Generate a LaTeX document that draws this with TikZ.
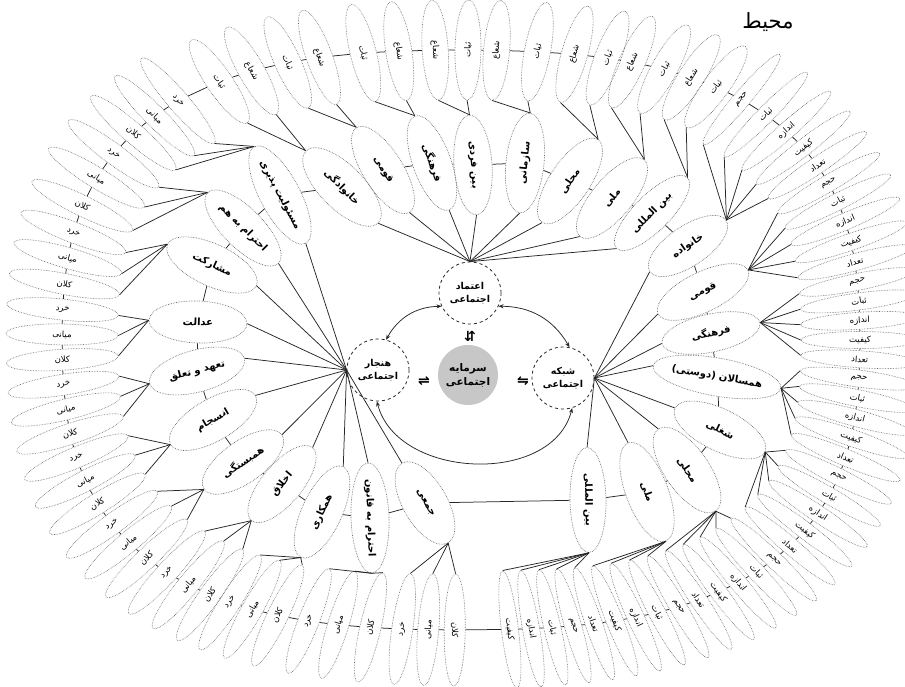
\documentclass[tikz,border=0pt]{standalone}
\usepackage{fontspec}
\newfontfamily\arfont[Script=Arabic]{DejaVu Sans}
\newfontfamily\symfont{DejaVu Sans}
\TeXXeTstate=1
\usetikzlibrary{shapes.geometric,arrows.meta}
\tikzset{
  leafbox/.style={ellipse, draw=black!60, densely dotted, line width=0.6pt, inner sep=0pt, font=\arfont\fontsize{8.5}{10}\selectfont},
  midbox/.style={ellipse, draw=black!60, densely dotted, line width=0.65pt, inner sep=0pt, font=\arfont\bfseries\fontsize{10}{12}\selectfont},
  hubbox/.style={circle, draw=black!85, dashed, line width=0.8pt, minimum size=62pt, inner sep=0pt, align=center, font=\arfont\bfseries\fontsize{9.5}{13}\selectfont},
  corebox/.style={circle, fill=black!22, minimum size=60pt, inner sep=0pt, align=center, font=\arfont\bfseries\fontsize{10.5}{14}\selectfont},
  wire/.style={line width=0.75pt, draw=black!85},
  twoway/.style={wire, {Stealth[length=5pt,width=4pt]}-{Stealth[length=5pt,width=4pt]}},
  symb/.style={font=\symfont\bfseries\fontsize{14}{14}\selectfont, inner sep=1pt},
}
% leaf: index, t, length, width, text
\newcommand\placeleaf[5]{%
  \pgfmathsetmacro\LFb{1+0.09*(sin(2*(#2)))^2}%
  \pgfmathsetmacro\LFx{461+399*cos(#2)*\LFb}%
  \pgfmathsetmacro\LFy{-340+290*sin(#2)*\LFb}%
  \pgfmathtruncatemacro\LFflip{cos(#2)+0.02<0 ? 1 : 0}%
  \ifnum\LFflip=1
    \pgfmathsetmacro\LFrot{#2+180}%
    \node[leafbox, minimum width=#3, minimum height=#4, rotate=\LFrot] (lf#1) at (\LFx,\LFy) {\beginR #5\endR};
    \coordinate (li#1) at (lf#1.east);
  \else
    \node[leafbox, minimum width=#3, minimum height=#4, rotate=#2] (lf#1) at (\LFx,\LFy) {\beginR #5\endR};
    \coordinate (li#1) at (lf#1.west);
  \fi}
% mid: index, x, y (pixels), outward angle, length, width, text
\newcommand\placemid[7]{%
  \pgfmathtruncatemacro\MDflip{cos(#4)<0 ? 1 : 0}%
  \ifnum\MDflip=1
    \pgfmathsetmacro\MDrot{#4+180}%
    \node[midbox, minimum width=#5, minimum height=#6, rotate=\MDrot] (md#1) at (#2,-#3) {#7};
    \coordinate (mi#1) at (md#1.east);
    \coordinate (mo#1) at (md#1.west);
  \else
    \node[midbox, minimum width=#5, minimum height=#6, rotate=#4] (md#1) at (#2,-#3) {#7};
    \coordinate (mi#1) at (md#1.west);
    \coordinate (mo#1) at (md#1.east);
  \fi}
\begin{document}
\begin{tikzpicture}[x=1pt,y=1pt]
\useasboundingbox (0,0) rectangle (905,-686);
\fill[white] (0,0) rectangle (905,-686);
\clip (0,0) rectangle (905,-686);

% centre
\node[hubbox] (etm) at (470,-293) {\beginR اعتماد\endR\\\beginR اجتماعی\endR};
\node[hubbox] (hnj) at (378,-370) {\beginR هنجار\endR\\\beginR اجتماعی\endR};
\node[hubbox] (shb) at (563,-378) {\beginR شبکه\endR\\\beginR اجتماعی\endR};
\node[corebox] (srm) at (468,-375) {\beginR سرمایه\endR\\\beginR اجتماعی\endR};
\node[symb] (ar1) at (470,-336) {⇵};
\node[symb] (ar2) at (424,-381) {⇌};
\node[symb] (ar3) at (523,-381) {⇋};
\node[font=\arfont\fontsize{21}{23}\selectfont] (env) at (768,-22) {\beginR محیط\endR};

\draw[twoway] (etm.205) to[bend right=30] (hnj.75);
\draw[twoway] (etm.-25) to[bend left=30] (shb.78);
\draw[twoway] (hnj.-92) .. controls +(20,-78) and +(-20,-78) .. (shb.-73);

% middle ring
\placemid{1}{342}{187}{135}{102pt}{44pt}{\beginR خانوادگی\endR}
\placemid{2}{383}{170}{122}{100pt}{40pt}{\beginR قومی\endR}
\placemid{3}{432}{163}{110}{100pt}{38pt}{\beginR فرهنگی\endR}
\placemid{4}{473}{165}{94}{100pt}{38pt}{\beginR بین فردی\endR}
\placemid{5}{525}{163}{84}{100pt}{38pt}{\beginR سازمانی\endR}
\placemid{6}{570}{181}{56}{100pt}{40pt}{\beginR محلی\endR}
\placemid{7}{612}{198}{50}{100pt}{40pt}{\beginR ملی\endR}
\placemid{8}{652}{213}{45}{100pt}{36pt}{\beginR بین المللی\endR}
\placemid{9}{688}{246}{34}{92pt}{40pt}{\beginR خانواده\endR}
\placemid{10}{703}{292}{26}{100pt}{40pt}{\beginR قومی\endR}
\placemid{11}{711}{333}{12}{100pt}{38pt}{\beginR فرهنگی\endR}
\placemid{12}{717}{377}{-10}{112pt}{38pt}{\beginR همسالان (دوستی)\endR}
\placemid{13}{720}{430}{-26}{100pt}{42pt}{\beginR شغلی\endR}
\placemid{14}{687}{470}{-55}{100pt}{44pt}{\beginR محلی\endR}
\placemid{15}{647}{492}{-69}{105pt}{42pt}{\beginR ملی\endR}
\placemid{16}{588}{500}{-89}{105pt}{36pt}{\beginR بین المللی\endR}
\placemid{17}{425}{503}{-60}{92pt}{44pt}{\beginR جمعی\endR}
\placemid{18}{370}{518}{-88}{110pt}{38pt}{\beginR احترام به قانون\endR}
\placemid{19}{322}{512}{-115}{100pt}{40pt}{\beginR همکاری\endR}
\placemid{20}{282}{484}{-130}{95pt}{40pt}{\beginR اخلاق\endR}
\placemid{21}{243}{462}{-145}{95pt}{42pt}{\beginR همبستگی\endR}
\placemid{22}{213}{420}{-150}{98pt}{42pt}{\beginR انسجام\endR}
\placemid{23}{197}{371}{-165}{98pt}{42pt}{\beginR تعهد و تعلق\endR}
\placemid{24}{198}{322}{178}{98pt}{42pt}{\beginR عدالت\endR}
\placemid{25}{212}{265}{155}{98pt}{42pt}{\beginR مشارکت\endR}
\placemid{26}{243}{228}{135}{100pt}{40pt}{\beginR احترام به هم\endR}
\placemid{27}{280}{195}{118}{108pt}{40pt}{\beginR مسئولیت پذیری\endR}

\foreach \k in {1,...,8} {\draw[wire] (etm.north) -- (mi\k);}
\foreach \k in {9,...,16} {\draw[wire] (shb.east) -- (mi\k);}
\foreach \k in {17,...,27} {\draw[wire] (hnj.west) -- (mi\k);}

% outer ring: top group
\foreach \ang/\lab/\pp [count=\n] in {
124.2/ثبات/1, 119.5/شعاع/1,
114.4/ثبات/2, 110.0/شعاع/2,
103.9/ثبات/3, 98.9/شعاع/3,
93.7/شعاع/4, 89.0/ثبات/4,
84.9/شعاع/5, 79.1/ثبات/5,
73.9/شعاع/6, 69.3/ثبات/6,
65.9/شعاع/7, 61.4/ثبات/7,
57.5/شعاع/8, 53.8/ثبات/8}
{\placeleaf{\n}{\ang}{100pt}{26pt}{\lab}
 \draw[wire] (mo\pp) -- (li\n);}

% outer ring: right group
\foreach \ang/\lab/\pp [count=\n from 17] in {
49.7/حجم/9, 45.5/ثبات/9, 41.5/اندازه/9, 37.7/کیفیت/9, 34.0/تعداد/9,
30.4/حجم/10, 26.8/ثبات/10, 23.0/اندازه/10, 19.1/کیفیت/10, 15.2/تعداد/10,
11.4/حجم/11, 7.6/ثبات/11, 3.8/اندازه/11, 0.0/کیفیت/11, -3.8/تعداد/11,
-7.6/حجم/12, -11.4/ثبات/12, -15.2/اندازه/12, -19.0/کیفیت/12, -22.8/تعداد/12,
-26.5/حجم/13, -30.2/ثبات/13, -33.8/اندازه/13, -37.3/کیفیت/13, -40.7/تعداد/13,
-44.0/حجم/14, -47.2/ثبات/14, -50.3/اندازه/14, -53.4/کیفیت/14, -56.4/تعداد/14,
-59.4/حجم/15, -62.4/ثبات/15, -65.4/اندازه/15, -68.3/کیفیت/15,
-71.2/تعداد/16, -74.1/حجم/16, -77.0/ثبات/16, -80.0/اندازه/16, -83.0/کیفیت/16}
{\placeleaf{\n}{\ang}{118pt}{17pt}{\lab}
 \draw[wire] (mo\pp) -- (li\n);}

% outer ring: left group
\foreach \ang/\lab/\pp [count=\n from 56] in {
269.1/کلان/17, 265.3/میانی/17, 261.6/خرد/17,
257.1/کلان/18, 252.6/میانی/18, 248.5/خرد/18,
244.2/کلان/19, 240.6/میانی/19, 237.4/خرد/19,
234.4/کلان/20, 231.0/میانی/20, 227.4/خرد/20,
223.7/کلان/21, 219.9/میانی/21, 216.0/خرد/21,
211.8/کلان/22, 207.3/میانی/22, 202.8/خرد/22,
198.3/کلان/23, 193.6/میانی/23, 188.8/خرد/23,
183.9/کلان/24, 178.9/میانی/24, 174.0/خرد/24,
169.0/کلان/25, 164.0/میانی/25, 159.1/خرد/25,
154.0/کلان/26, 148.5/میانی/26, 143.6/خرد/26,
139.0/کلان/27, 134.8/میانی/27, 130.7/خرد/27}
{\placeleaf{\n}{\ang}{112pt}{21pt}{\lab}
 \draw[wire] (mo\pp) -- (li\n);}

% chain links
\foreach \i in {1,...,88} {\pgfmathtruncatemacro\j{mod(\i,88)+1}\draw[wire] (lf\i) -- (lf\j);}
\foreach \i in {1,...,27} {\pgfmathtruncatemacro\j{mod(\i,27)+1}\draw[wire] (md\i) -- (md\j);}
\end{tikzpicture}
\end{document}
